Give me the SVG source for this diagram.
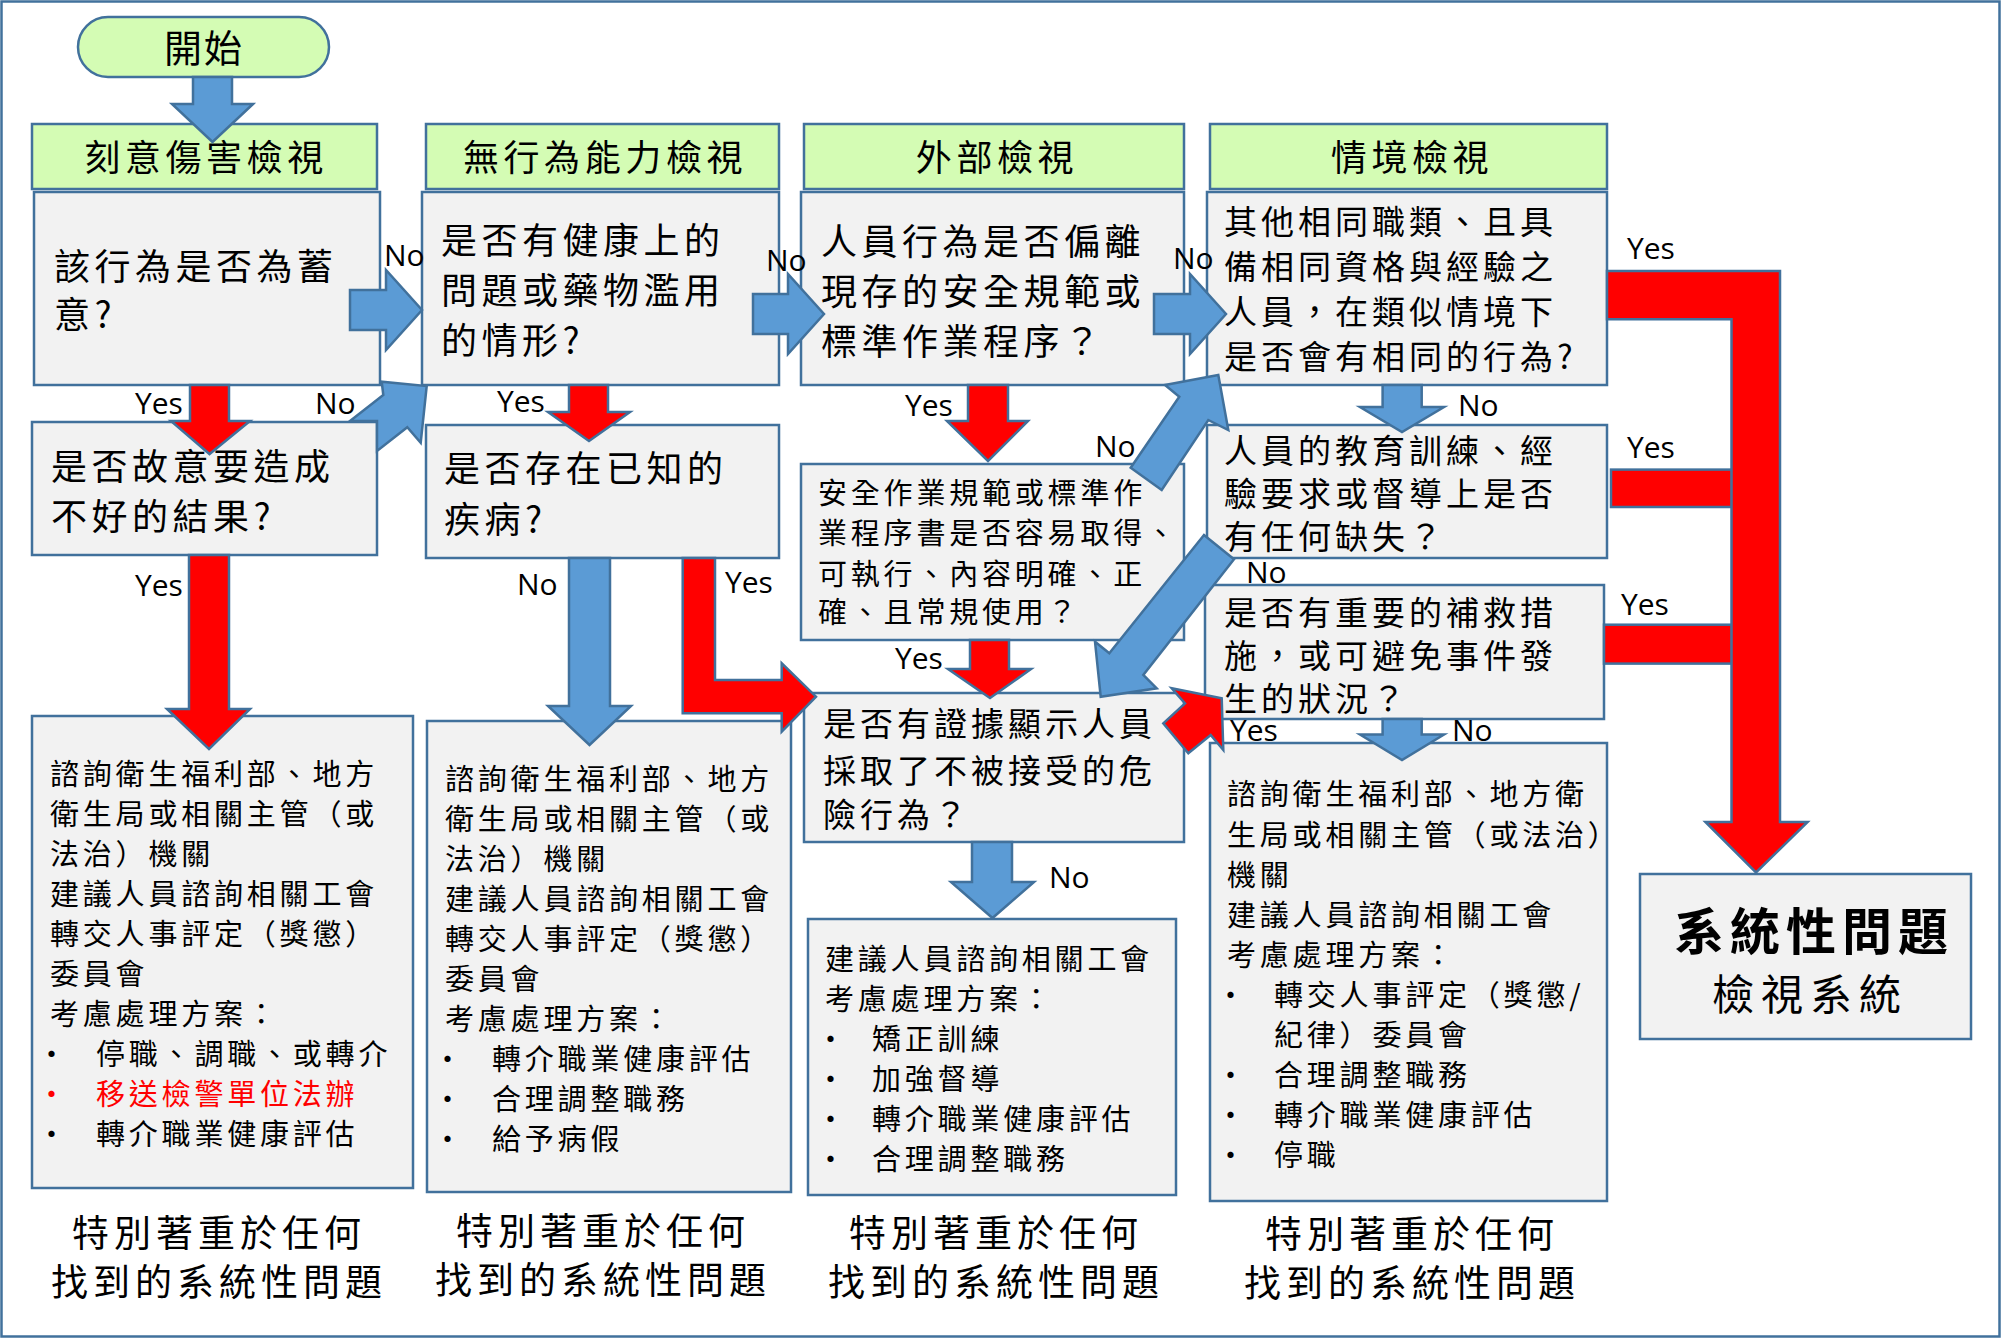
<svg xmlns="http://www.w3.org/2000/svg" width="2002" height="1339" viewBox="0 0 2002 1339">
<style>
.box{fill:#F2F2F2;stroke:#41719C;stroke-width:2.5}
.hdr{fill:#D4FCB4;stroke:#41719C;stroke-width:2.5}
.blue{fill:#5B9BD5;stroke:#41719C;stroke-width:2.5;stroke-linejoin:miter}
.red{fill:#FF0000;stroke:#41719C;stroke-width:2.5;stroke-linejoin:miter}
text{font-family:"Noto Sans CJK TC","Noto Sans CJK SC",sans-serif;fill:#000}
.h{font-size:36px;letter-spacing:4.6px;text-anchor:middle}
.q1{font-size:36px;letter-spacing:4.5px}
.q2{font-size:33px;letter-spacing:4px}
.q3{font-size:29px;letter-spacing:3.8px}
.ft{font-size:37px;letter-spacing:5px;text-anchor:middle}
.yn{font-family:"Open Sans",sans-serif;font-size:30px}
.rt{fill:#FF0000}
</style>
<rect x="1.5" y="1.5" width="1998" height="1335" fill="#FFFFFF" stroke="#41719C" stroke-width="2.5"/>

<g id="start">
<rect x="78" y="17" width="251" height="60" rx="30" class="hdr"/>
<text x="204" y="62" style="font-size:38px;letter-spacing:2px;text-anchor:middle">開始</text>
</g>

<g id="header1"><rect x="32" y="124" width="345" height="65" class="hdr"/><text x="206" y="171" class="h">刻意傷害檢視</text></g>
<g id="header2"><rect x="426" y="124" width="353" height="65" class="hdr"/><text x="605" y="171" class="h">無行為能力檢視</text></g>
<g id="header3"><rect x="804" y="124" width="380" height="65" class="hdr"/><text x="997" y="171" class="h">外部檢視</text></g>
<g id="header4"><rect x="1210" y="124" width="397" height="65" class="hdr"/><text x="1412" y="171" class="h">情境檢視</text></g>

<g id="q-deliberate">
<rect x="34" y="192" width="346" height="193" class="box"/>
<text class="q1"><tspan x="54" y="280">該行為是否為蓄</tspan><tspan x="54" y="328">意?</tspan></text>
</g>
<g id="q-health">
<rect x="422" y="192" width="357" height="193" class="box"/>
<text class="q1"><tspan x="441" y="254">是否有健康上的</tspan><tspan x="441" y="304">問題或藥物濫用</tspan><tspan x="441" y="354">的情形?</tspan></text>
</g>
<g id="q-intent">
<rect x="32" y="422" width="345" height="133" class="box"/>
<text class="q1"><tspan x="51" y="480">是否故意要造成</tspan><tspan x="51" y="530">不好的結果?</tspan></text>
</g>
<g id="q-illness">
<rect x="426" y="425" width="353" height="133" class="box"/>
<text class="q1"><tspan x="444" y="482">是否存在已知的</tspan><tspan x="444" y="533">疾病?</tspan></text>
</g>
<g id="q-deviate">
<rect x="801" y="192" width="383" height="193" class="box"/>
<text class="q1"><tspan x="821" y="255">人員行為是否偏離</tspan><tspan x="821" y="305">現存的安全規範或</tspan><tspan x="821" y="355">標準作業程序？</tspan></text>
</g>
<g id="q-others">
<rect x="1207" y="192" width="400" height="193" class="box"/>
<text class="q2"><tspan x="1224" y="234">其他相同職類、且具</tspan><tspan x="1224" y="279">備相同資格與經驗之</tspan><tspan x="1224" y="324">人員，在類似情境下</tspan><tspan x="1224" y="369">是否會有相同的行為?</tspan></text>
</g>
<g id="q-sop">
<rect x="801" y="464" width="383" height="176" class="box"/>
<text class="q3"><tspan x="818" y="504">安全作業規範或標準作</tspan><tspan x="818" y="544">業程序書是否容易取得、</tspan><tspan x="818" y="585">可執行、內容明確、正</tspan><tspan x="818" y="623">確、且常規使用？</tspan></text>
</g>
<g id="q-training">
<rect x="1207" y="425" width="400" height="133" class="box"/>
<text class="q2"><tspan x="1224" y="463">人員的教育訓練、經</tspan><tspan x="1224" y="506">驗要求或督導上是否</tspan><tspan x="1224" y="549">有任何缺失？</tspan></text>
</g>
<g id="q-remedy">
<rect x="1205" y="585" width="399" height="134" class="box"/>
<text class="q2"><tspan x="1224" y="625">是否有重要的補救措</tspan><tspan x="1224" y="668">施，或可避免事件發</tspan><tspan x="1224" y="711">生的狀況？</tspan></text>
</g>
<g id="q-evidence">
<rect x="804" y="693" width="380" height="149" class="box"/>
<text class="q2"><tspan x="823" y="736">是否有證據顯示人員</tspan><tspan x="823" y="783">採取了不被接受的危</tspan><tspan x="823" y="827">險行為？</tspan></text>
</g>

<g id="action1">
<rect x="32" y="716" width="381" height="472" class="box"/>
<text class="q3"><tspan x="50" y="785">諮詢衛生福利部、地方</tspan><tspan x="50" y="825">衛生局或相關主管（或</tspan><tspan x="50" y="865">法治）機關</tspan><tspan x="50" y="905">建議人員諮詢相關工會</tspan><tspan x="50" y="945">轉交人事評定（獎懲）</tspan><tspan x="50" y="985">委員會</tspan><tspan x="50" y="1025">考慮處理方案：</tspan></text>
<text class="q3"><tspan x="37" y="1065">•</tspan><tspan x="96" y="1065">停職、調職、或轉介</tspan></text>
<text class="q3 rt"><tspan x="37" y="1105">•</tspan><tspan x="96" y="1105">移送檢警單位法辦</tspan></text>
<text class="q3"><tspan x="37" y="1145">•</tspan><tspan x="96" y="1145">轉介職業健康評估</tspan></text>
</g>
<g id="action2">
<rect x="427" y="721" width="364" height="471" class="box"/>
<text class="q3"><tspan x="445" y="790">諮詢衛生福利部、地方</tspan><tspan x="445" y="830">衛生局或相關主管（或</tspan><tspan x="445" y="870">法治）機關</tspan><tspan x="445" y="910">建議人員諮詢相關工會</tspan><tspan x="445" y="950">轉交人事評定（獎懲）</tspan><tspan x="445" y="990">委員會</tspan><tspan x="445" y="1030">考慮處理方案：</tspan></text>
<text class="q3"><tspan x="433" y="1070">•</tspan><tspan x="492" y="1070">轉介職業健康評估</tspan><tspan x="433" y="1110">•</tspan><tspan x="492" y="1110">合理調整職務</tspan><tspan x="433" y="1150">•</tspan><tspan x="492" y="1150">給予病假</tspan></text>
</g>
<g id="action3">
<rect x="808" y="919" width="368" height="276" class="box"/>
<text class="q3"><tspan x="825" y="970">建議人員諮詢相關工會</tspan><tspan x="825" y="1010">考慮處理方案：</tspan><tspan x="816" y="1050">•</tspan><tspan x="872" y="1050">矯正訓練</tspan><tspan x="816" y="1090">•</tspan><tspan x="872" y="1090">加強督導</tspan><tspan x="816" y="1130">•</tspan><tspan x="872" y="1130">轉介職業健康評估</tspan><tspan x="816" y="1170">•</tspan><tspan x="872" y="1170">合理調整職務</tspan></text>
</g>
<g id="action4">
<rect x="1210" y="743" width="397" height="458" class="box"/>
<text class="q3"><tspan x="1227" y="805">諮詢衛生福利部、地方衛</tspan><tspan x="1227" y="846">生局或相關主管（或法治）</tspan><tspan x="1227" y="886">機關</tspan><tspan x="1227" y="926">建議人員諮詢相關工會</tspan><tspan x="1227" y="966">考慮處理方案：</tspan><tspan x="1216" y="1006">•</tspan><tspan x="1274" y="1006">轉交人事評定（獎懲/</tspan><tspan x="1274" y="1046">紀律）委員會</tspan><tspan x="1216" y="1086">•</tspan><tspan x="1274" y="1086">合理調整職務</tspan><tspan x="1216" y="1126">•</tspan><tspan x="1274" y="1126">轉介職業健康評估</tspan><tspan x="1216" y="1166">•</tspan><tspan x="1274" y="1166">停職</tspan></text>
</g>
<g id="systemic">
<rect x="1640" y="874" width="331" height="165" class="box"/>
<text x="1814" y="950" style="font-size:50px;font-weight:bold;letter-spacing:6px;text-anchor:middle">系統性問題</text>
<text x="1810" y="1010" style="font-size:42px;letter-spacing:7px;text-anchor:middle">檢視系統</text>
</g>

<g id="notes">
<text class="ft"><tspan x="219" y="1247">特別著重於任何</tspan><tspan x="219" y="1296">找到的系統性問題</tspan></text>
<text class="ft"><tspan x="603" y="1245">特別著重於任何</tspan><tspan x="603" y="1294">找到的系統性問題</tspan></text>
<text class="ft"><tspan x="996" y="1247">特別著重於任何</tspan><tspan x="996" y="1296">找到的系統性問題</tspan></text>
<text class="ft"><tspan x="1412" y="1248">特別著重於任何</tspan><tspan x="1412" y="1297">找到的系統性問題</tspan></text>
</g>

<g id="connectors">
<polygon class="blue" points="193,77 232,77 232,104 253,104 212.5,142 172,104 193,104"/>
<polygon class="blue" points="350,290 386,290 386,270 422,310 386,350 386,330 350,330"/>
<polygon class="blue" points="753,294 788,294 788,274 824,314 788,354 788,334 753,334"/>
<polygon class="blue" points="1154,294 1190,294 1190,274 1226,314 1190,354 1190,334 1154,334"/>
<polygon class="red" points="190,385 229,385 229,421 250,421 209.5,454 171,421 190,421"/>
<polygon class="red" points="569,385 608,385 608,412 630,412 589,441 548,412 569,412"/>
<polygon class="red" points="968,385 1008,385 1008,421 1028,421 988,461 947,421 968,421"/>
<polygon class="red" points="970,640 1009,640 1009,669 1031,669 990,698 948,669 970,669"/>
<polygon class="blue" points="972,842 1012,842 1012,882 1034,882 992.5,918 951,882 972,882"/>
<polygon class="red" points="189,555 229,555 229,709 250,709 209,749 167,709 189,709"/>
<polygon class="blue" points="569,558 610,558 610,706 631,706 589.5,745 548,706 569,706"/>
<polygon class="blue" points="1382.6,385 1421.7,385 1421.7,407 1444,407 1402,432 1360,407 1382.6,407"/>
<polygon class="blue" points="1382.6,719 1421.7,719 1421.7,734.5 1444,734.5 1402,760 1360,734.5 1382.6,734.5"/>
<polygon class="red" points="682.7,558 715,558 715,680 781.7,680 781.7,663.3 816,696.7 781.7,731.7 781.7,713.3 682.7,713.3"/>
<polygon class="blue" points="350,421 383.3,395 381.7,381.7 426.7,386 420.7,442.7 407.3,427.3 377,451 377,421"/>
<polygon class="blue" points="1130.7,467.7 1179.3,396.7 1165,385 1218.3,375 1228.3,430 1208.3,420 1161.7,490"/>
<polygon class="blue" points="1204,535 1109.3,653.3 1095,641.7 1100.7,696.7 1156.7,688.3 1143.3,675 1234,559.3"/>
<polygon class="red" points="1163.3,723.3 1185,703.3 1171.7,688.3 1221.7,698.3 1223.3,750 1210.7,735 1188.3,753.3"/>
<rect class="red" x="1611" y="469.6" width="121" height="37.4"/>
<rect class="red" x="1604" y="624.7" width="128" height="38.9"/>
<polygon class="red" points="1607,271 1780,271 1780,822 1807.6,822 1756,872.5 1705.4,822 1731.5,822 1731.5,319.3 1607,319.3"/>

<text class="yn" x="384" y="266">No</text>
<text class="yn" x="766" y="271">No</text>
<text class="yn" x="1173" y="269">No</text>
<text class="yn" x="135" y="414">Yes</text>
<text class="yn" x="315" y="414">No</text>
<text class="yn" x="497" y="412">Yes</text>
<text class="yn" x="135" y="596">Yes</text>
<text class="yn" x="517" y="595">No</text>
<text class="yn" x="725" y="593">Yes</text>
<text class="yn" x="905" y="416">Yes</text>
<text class="yn" x="1095" y="457">No</text>
<text class="yn" x="895" y="669">Yes</text>
<text class="yn" x="1049" y="888">No</text>
<text class="yn" x="1458" y="416">No</text>
<text class="yn" x="1246" y="583">No</text>
<text class="yn" x="1230" y="741">Yes</text>
<text class="yn" x="1452" y="741">No</text>
<text class="yn" x="1627" y="259">Yes</text>
<text class="yn" x="1627" y="458">Yes</text>
<text class="yn" x="1621" y="615">Yes</text>
</g>
</svg>
